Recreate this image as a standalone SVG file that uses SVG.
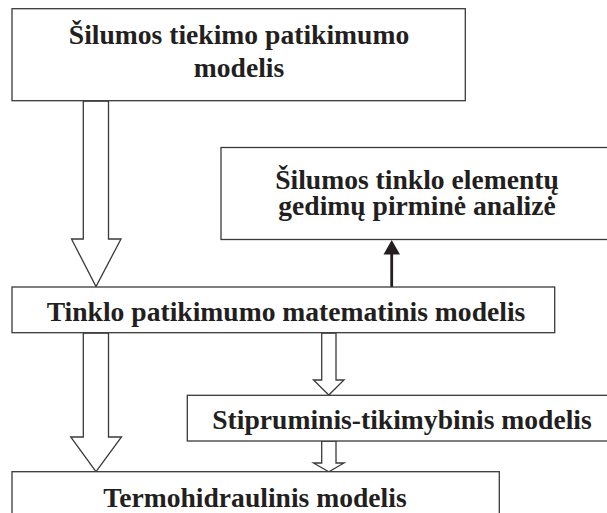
<svg xmlns="http://www.w3.org/2000/svg" width="607" height="513" viewBox="0 0 607 513">
<style>
.box{fill:#fff;stroke:#3a3a3a;stroke-width:1.3}
.arr{fill:#fff;stroke:#3a3a3a;stroke-width:1.3;stroke-linejoin:miter}
.t{font-family:"Liberation Serif","Times New Roman",serif;font-weight:bold;font-size:27.6px;fill:#231f20;text-anchor:middle}
</style>
<rect width="607" height="513" fill="#fff"/>
<g id="connectors">
<polygon class="arr" points="83.3,101 108.5,101 108.5,239 121,239 96,286.5 71.5,239 83.3,239"/>
<polygon class="arr" points="83.3,333 108.5,333 108.5,437 121.5,437 96,471.7 70.7,437 83.3,437"/>
<polygon class="arr" points="321.7,333 336,333 336,380 344,380 328.8,395 313.5,380 321.7,380"/>
<polygon class="arr" points="321.7,441 336,441 336,463 344,463 328.8,471.7 313.5,463 321.7,463"/>
<line x1="391.7" y1="287" x2="391.7" y2="252" stroke="#231f20" stroke-width="2.8"/>
<polygon points="391.7,240 400,254.5 383.5,254.5" fill="#231f20"/>
</g>
<g id="node1">
<rect class="box" x="12" y="8.7" width="453.3" height="92"/>
<text class="t" x="239" y="44">Šilumos tiekimo patikimumo</text>
<text class="t" x="239" y="77">modelis</text>
</g>
<g id="node2">
<rect class="box" x="221" y="147.5" width="400" height="92"/>
<text class="t" x="417" y="189">Šilumos tinklo elementų</text>
<text class="t" x="417" y="214.5">gedimų pirminė analizė</text>
</g>
<g id="node3">
<rect class="box" x="12" y="287" width="542.7" height="45.7"/>
<text class="t" x="286" y="320.5">Tinklo patikimumo matematinis modelis</text>
</g>
<g id="node4">
<rect class="box" x="187.3" y="395.3" width="430" height="45.7"/>
<text class="t" x="402" y="429">Stipruminis-tikimybinis modelis</text>
</g>
<g id="node5">
<rect class="box" x="12" y="471.7" width="487.3" height="60"/>
<text class="t" x="255" y="506.5">Termohidraulinis modelis</text>
</g>
</svg>
